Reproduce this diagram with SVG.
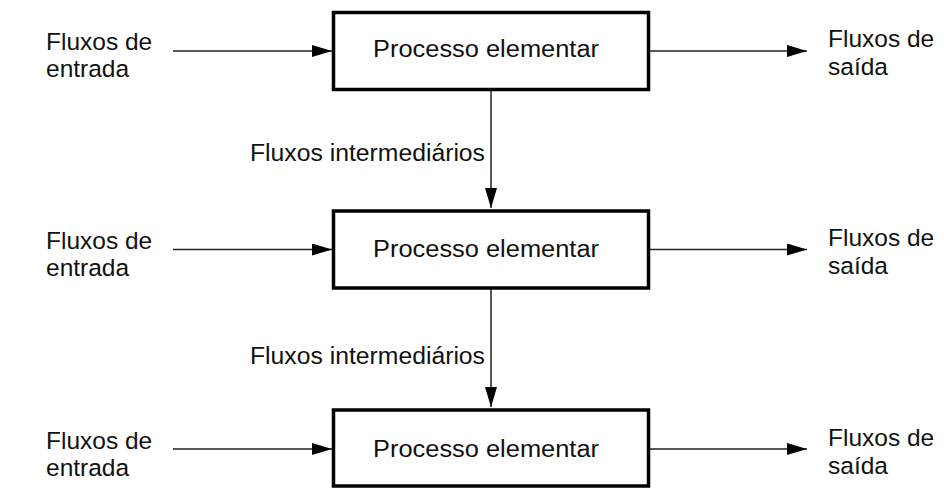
<svg xmlns="http://www.w3.org/2000/svg" width="952" height="491" viewBox="0 0 952 491">
<defs>
<marker id="ah" markerUnits="userSpaceOnUse" markerWidth="22" markerHeight="12" refX="20" refY="6" orient="auto">
<path d="M0,0 L20,6 L0,12 z" fill="#000"/>
</marker>
<style>
.box{fill:#fff;stroke:#000;stroke-width:3.5}
.lbl{font-family:"Liberation Sans",Arial,sans-serif;font-size:24.5px;fill:#111}
.bl{font-family:"Liberation Sans",Arial,sans-serif;font-size:23.5px;fill:#111}
.c{stroke:#222;stroke-width:1.5;fill:none;marker-end:url(#ah)}
</style>
</defs>
<rect width="952" height="491" fill="#fff"/>
<g id="connectors">
<line class="c" x1="173" y1="51" x2="332" y2="51"/>
<line class="c" x1="650" y1="51" x2="807" y2="51"/>
<line class="c" x1="173" y1="249.5" x2="332" y2="249.5"/>
<line class="c" x1="650" y1="249.5" x2="807" y2="249.5"/>
<line class="c" x1="173" y1="449" x2="332" y2="449"/>
<line class="c" x1="650" y1="449" x2="807" y2="449"/>
<line class="c" x1="491" y1="91" x2="491" y2="208"/>
<line class="c" x1="491" y1="289" x2="491" y2="407"/>
<text class="bl" x="250" y="160.5" textLength="235" lengthAdjust="spacingAndGlyphs">Fluxos intermediários</text>
<text class="bl" x="250" y="364" textLength="235" lengthAdjust="spacingAndGlyphs">Fluxos intermediários</text>
</g>
<g id="proc1">
<rect class="box" x="333.5" y="12.5" width="315" height="77"/>
<text class="bl" x="373" y="56.5" textLength="226" lengthAdjust="spacingAndGlyphs">Processo elementar</text>
</g>
<g id="proc2">
<rect class="box" x="333.5" y="211" width="315" height="77"/>
<text class="bl" x="373" y="256.5" textLength="226" lengthAdjust="spacingAndGlyphs">Processo elementar</text>
</g>
<g id="proc3">
<rect class="box" x="333.5" y="410" width="315" height="76"/>
<text class="bl" x="373" y="456.5" textLength="226" lengthAdjust="spacingAndGlyphs">Processo elementar</text>
</g>
<g id="in1"><text class="lbl" x="46" y="50">Fluxos de</text><text class="lbl" x="46" y="77">entrada</text></g>
<g id="in2"><text class="lbl" x="46" y="249">Fluxos de</text><text class="lbl" x="46" y="276">entrada</text></g>
<g id="in3"><text class="lbl" x="46" y="449">Fluxos de</text><text class="lbl" x="46" y="476">entrada</text></g>
<g id="out1"><text class="lbl" x="828" y="47">Fluxos de</text><text class="lbl" x="828" y="75">saída</text></g>
<g id="out2"><text class="lbl" x="828" y="246">Fluxos de</text><text class="lbl" x="828" y="274">saída</text></g>
<g id="out3"><text class="lbl" x="828" y="446">Fluxos de</text><text class="lbl" x="828" y="474">saída</text></g>
</svg>
